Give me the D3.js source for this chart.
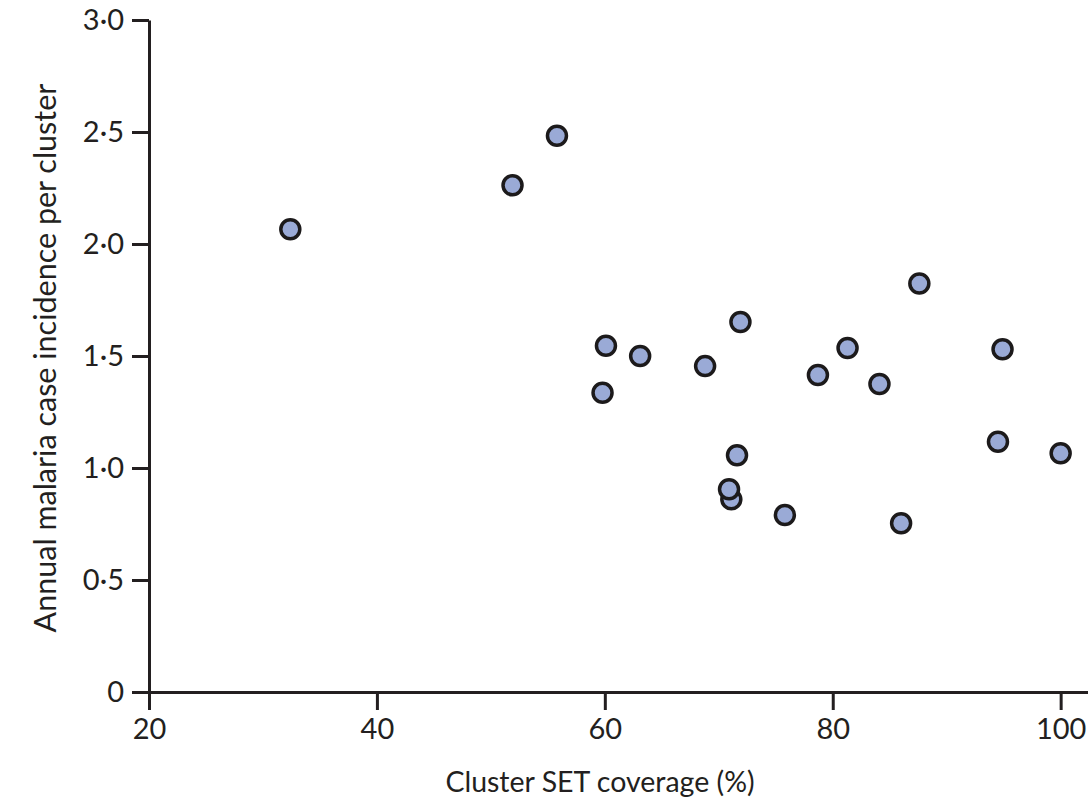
<!DOCTYPE html>
<html>
<head>
<meta charset="utf-8">
<script src="https://cdn.jsdelivr.net/npm/d3@7"></script>
<style>
	html, body { margin: 0; padding: 0; background: #fff; }
	svg { display: block; }
	text { font-family: Lato, "Open Sans", sans-serif; fill: #231f20; }
</style>
</head>
<body>
<div id="chart"></div>
<script>
/* cluster coverage vs incidence scatter */

// SET coverage per cluster (%)
const coverage = [32.4, 51.9, 55.8, 60.1, 63.1, 59.8, 87.6, 71.9, 68.8, 81.3,
	78.7, 84.1, 94.9, 94.5, 100.0, 71.6, 71.1, 70.9, 75.8, 86.0];
// annual malaria case incidence per cluster
const incidence = [2.066, 2.262, 2.483, 1.546, 1.50, 1.336, 1.824, 1.652, 1.455, 1.536,
	1.415, 1.375, 1.530, 1.117, 1.066, 1.057, 0.860, 0.905, 0.790, 0.753];

const xTicks = [20, 40, 60, 80, 100];
const yTicks = [0, 0.5, 1, 1.5, 2, 2.5, 3];

const W = 1088, H = 799;
const ink = "#231f20";

const svg = d3.select("#chart").append("svg")
	.attr("width", W)
	.attr("height", H);

const x = d3.scaleLinear().domain([20, 102.4]).range([149, 1088]);
const y = d3.scaleLinear().domain([0, 3]).range([692, 20]);

const fmtY = d => d === 0 ? "0" : d.toFixed(1).replace(".", "\u00b7");

const xAxis = svg.append("g")
	.attr("transform", `translate(0,${y(0)})`)
	.call(d3.axisBottom(x).tickValues(xTicks).tickSize(18).tickPadding(8).tickSizeOuter(0));

const yAxis = svg.append("g")
	.attr("transform", `translate(${x(20)},0)`)
	.call(d3.axisLeft(y).tickValues(yTicks).tickFormat(fmtY).tickSize(17).tickPadding(8).tickSizeOuter(0));

[xAxis, yAxis].forEach(a => {
	a.select(".domain").attr("stroke", ink).attr("stroke-width", 3);
	a.selectAll(".tick line").attr("stroke", ink).attr("stroke-width", 3);
	a.selectAll(".tick text")
		.style("font-family", "Lato, 'Open Sans', sans-serif")
		.style("font-size", "29px")
		.attr("fill", ink);
});

// axis titles
svg.append("text")
	.attr("x", 600)
	.attr("y", 792)
	.attr("text-anchor", "middle")
	.style("font-size", "28.5px")
	.text("Cluster SET coverage (%)");

svg.append("text")
	.attr("transform", "translate(56,358) rotate(-90)")
	.attr("text-anchor", "middle")
	.style("font-size", "30.5px")
	.text("Annual malaria case incidence per cluster");

// points
svg.append("g")
	.selectAll("circle")
	.data(d3.range(coverage.length))
	.join("circle")
	.attr("cx", i => x(coverage[i]))
	.attr("cy", i => y(incidence[i]))
	.attr("r", 9.5)
	.attr("fill", "#9aaad6")
	.attr("stroke", "#1c1a1b")
	.attr("stroke-width", 3.5);
</script>
</body>
</html>
